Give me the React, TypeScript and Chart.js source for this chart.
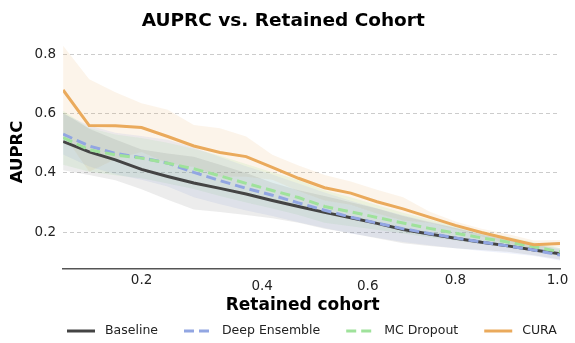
import React, { useEffect, useRef } from 'react';
import { Chart, registerables } from 'chart.js';

Chart.register(...registerables);

const FONT = "'DejaVu Sans', sans-serif";

const RETAINED = [0.05, 0.10, 0.15, 0.20, 0.25, 0.30, 0.35, 0.40, 0.45, 0.50, 0.55, 0.60, 0.65, 0.70, 0.75, 0.80, 0.85, 0.90, 0.95, 1.00];

const BASELINE = [0.506, 0.471, 0.444, 0.412, 0.388, 0.366, 0.348, 0.329, 0.307, 0.287, 0.267, 0.249, 0.230, 0.209, 0.194, 0.180, 0.166, 0.154, 0.140, 0.127];
const BASELINE_UP = [0.603, 0.549, 0.513, 0.479, 0.466, 0.455, 0.428, 0.400, 0.367, 0.342, 0.322, 0.301, 0.280, 0.255, 0.234, 0.214, 0.192, 0.174, 0.158, 0.146];
const BASELINE_LO = [0.409, 0.393, 0.375, 0.345, 0.310, 0.277, 0.268, 0.258, 0.247, 0.232, 0.212, 0.197, 0.180, 0.163, 0.154, 0.146, 0.140, 0.134, 0.122, 0.108];

const DEEP_ENS = [0.531, 0.491, 0.466, 0.451, 0.433, 0.402, 0.374, 0.348, 0.325, 0.299, 0.274, 0.251, 0.231, 0.212, 0.196, 0.181, 0.167, 0.154, 0.140, 0.123];
const DEEP_ENS_UP = [0.600, 0.560, 0.536, 0.525, 0.512, 0.486, 0.454, 0.423, 0.395, 0.364, 0.334, 0.306, 0.281, 0.257, 0.236, 0.216, 0.197, 0.179, 0.160, 0.141];
const DEEP_ENS_LO = [0.462, 0.422, 0.396, 0.377, 0.354, 0.318, 0.294, 0.273, 0.255, 0.234, 0.214, 0.196, 0.181, 0.167, 0.156, 0.146, 0.137, 0.129, 0.120, 0.105];

const MC_DROP = [0.519, 0.478, 0.461, 0.450, 0.433, 0.414, 0.390, 0.365, 0.341, 0.317, 0.287, 0.269, 0.250, 0.231, 0.213, 0.197, 0.181, 0.167, 0.151, 0.134];
const MC_DROP_UP = [0.610, 0.552, 0.530, 0.518, 0.502, 0.482, 0.458, 0.430, 0.402, 0.376, 0.342, 0.318, 0.292, 0.266, 0.243, 0.222, 0.202, 0.185, 0.166, 0.148];
const MC_DROP_LO = [0.428, 0.404, 0.392, 0.382, 0.364, 0.346, 0.322, 0.300, 0.280, 0.258, 0.232, 0.220, 0.208, 0.196, 0.183, 0.172, 0.160, 0.149, 0.136, 0.120];

const CURA = [0.680, 0.560, 0.559, 0.553, 0.523, 0.491, 0.469, 0.455, 0.419, 0.382, 0.350, 0.332, 0.303, 0.279, 0.251, 0.223, 0.199, 0.178, 0.158, 0.162];
const CURA_UP = [0.829, 0.716, 0.672, 0.635, 0.613, 0.562, 0.551, 0.523, 0.461, 0.425, 0.393, 0.371, 0.343, 0.318, 0.270, 0.236, 0.212, 0.194, 0.172, 0.174];
const CURA_LO = [0.531, 0.404, 0.446, 0.471, 0.433, 0.420, 0.387, 0.387, 0.377, 0.339, 0.307, 0.293, 0.263, 0.240, 0.232, 0.210, 0.186, 0.162, 0.144, 0.150];

const SERIES_NAMES = ['Baseline', 'Deep Ensemble', 'MC Dropout', 'CURA'];
const SERIES_COLORS = ['#444444', '#92a6e2', '#9fe29b', '#eaaa5c'];
const BAND_COLORS = ['rgba(80,80,80,0.11)', 'rgba(146,166,226,0.15)', 'rgba(159,226,155,0.17)', 'rgba(234,170,92,0.13)'];

const X_TICKS = [0.2, 0.4, 0.6, 0.8, 1.0];
const X_TICK_LABELS = ['0.2', '0.4', '0.6', '0.8', '1.0'];
const X_TICK_NUDGE = [[0, 0], [16, 6], [17, 6], [0, 0], [-2.5, 0]];
const Y_TICKS = [0.2, 0.4, 0.6, 0.8];

const toPts = (arr: number[]) => arr.map((y, i) => ({ x: RETAINED[i], y }));

const xTickPlugin = {
  id: 'xTickLabels',
  afterDraw(chart: any) {
    const { ctx, chartArea, scales } = chart;
    const xs = scales.x;
    ctx.save();
    ctx.font = `13.5px ${FONT}`;
    ctx.fillStyle = '#222';
    ctx.textAlign = 'center';
    ctx.textBaseline = 'middle';
    X_TICKS.forEach((v, i) => {
      const [dx, dy] = X_TICK_NUDGE[i];
      ctx.fillText(X_TICK_LABELS[i], xs.getPixelForValue(v) + dx, chartArea.bottom + 11 + dy);
    });
    ctx.restore();
  },
};

// legend: line sample, gap, label, gap
const LEGEND_STYLE = { startX: 67, y: 331, sample: 28, gapText: 10, gapItem: 26, font: 12.5 };

const legendPlugin = {
  id: 'bottomLegend',
  afterDraw(chart: any) {
    const { ctx } = chart;
    const st = LEGEND_STYLE;
    ctx.save();
    ctx.font = `${st.font}px ${FONT}`;
    ctx.textBaseline = 'middle';
    ctx.textAlign = 'left';
    let x = st.startX;
    SERIES_NAMES.forEach((name, i) => {
      const ds = chart.data.datasets[i];
      ctx.beginPath();
      ctx.strokeStyle = ds.borderColor;
      ctx.lineWidth = ds.borderWidth;
      ctx.setLineDash(ds.borderDash || []);
      ctx.moveTo(x, st.y);
      ctx.lineTo(x + st.sample, st.y);
      ctx.stroke();
      ctx.setLineDash([]);
      x += st.sample + st.gapText;
      ctx.fillStyle = '#222';
      ctx.fillText(name, x, st.y);
      x += ctx.measureText(name).width + st.gapItem;
    });
    ctx.restore();
  },
};

export default function App() {
  const ref = useRef<HTMLCanvasElement | null>(null);
  useEffect(() => {
    document.body.style.margin = '0';
    const lines = [BASELINE, DEEP_ENS, MC_DROP, CURA];
    const ups = [BASELINE_UP, DEEP_ENS_UP, MC_DROP_UP, CURA_UP];
    const los = [BASELINE_LO, DEEP_ENS_LO, MC_DROP_LO, CURA_LO];
    const datasets: any[] = [];
    lines.forEach((vals, i) => {
      datasets.push({
        label: SERIES_NAMES[i],
        data: toPts(vals),
        borderColor: SERIES_COLORS[i],
        backgroundColor: SERIES_COLORS[i],
        borderWidth: 3,
        borderDash: i === 1 || i === 2 ? [10, 5] : [],
        pointRadius: 0,
        tension: 0,
        fill: false,
        order: 3 - i,
      });
    });
    ups.forEach((up, i) => {
      datasets.push({
        label: SERIES_NAMES[i] + ' lo',
        data: toPts(los[i]),
        borderWidth: 0,
        pointRadius: 0,
        fill: false,
        order: 10,
      });
      datasets.push({
        label: SERIES_NAMES[i] + ' up',
        data: toPts(up),
        borderWidth: 0,
        pointRadius: 0,
        backgroundColor: BAND_COLORS[i],
        fill: '-1',
        order: 10,
      });
    });

    const chart = new Chart(ref.current as HTMLCanvasElement, {
      type: 'line',
      data: { datasets },
      plugins: [xTickPlugin, legendPlugin],
      options: {
        animation: false,
        responsive: false,
        layout: { padding: { right: 15, left: 0, top: 0, bottom: 24 } },
        plugins: {
          tooltip: { enabled: false },
          legend: { display: false },
          title: {
            display: true,
            text: ' AUPRC vs. Retained Cohort',
            color: '#000',
            font: { family: FONT, size: 18.5, weight: 'bold' },
            padding: { top: 10, bottom: 2.6 },
          },
        },
        scales: {
          x: {
            type: 'linear',
            min: 0.05,
            max: 1.0,
            grid: { display: false, drawTicks: false },
            border: { display: true, color: '#555', width: 1.5 },
            ticks: { display: false },
            title: {
              display: true,
              text: 'Retained cohort   ',
              color: '#000',
              font: { family: FONT, size: 17, weight: 'bold' },
              padding: { top: 26.8, bottom: 2.8 },
            },
          },
          y: {
            type: 'linear',
            min: 0.076,
            max: 0.866,
            afterBuildTicks: (s: any) => {
              s.ticks = Y_TICKS.map((v) => ({ value: v }));
            },
            grid: { display: true, color: '#cccccc', lineWidth: 1, drawTicks: false },
            border: { display: false, dash: [4, 3] },
            ticks: {
              padding: 7,
              color: '#222',
              font: { family: FONT, size: 13.5 },
              callback: (v: any) => Number(v).toFixed(1),
            },
            title: {
              display: true,
              text: 'AUPRC',
              color: '#000',
              font: { family: FONT, size: 16.5, weight: 'bold' },
              padding: { top: 7.6, bottom: 0.2 },
            },
          },
        },
      } as any,
    });
    return () => chart.destroy();
  }, []);
  return (
    <div style={{ width: 575, height: 343 }}>
      <canvas ref={ref} width={575} height={343} />
    </div>
  );
}
